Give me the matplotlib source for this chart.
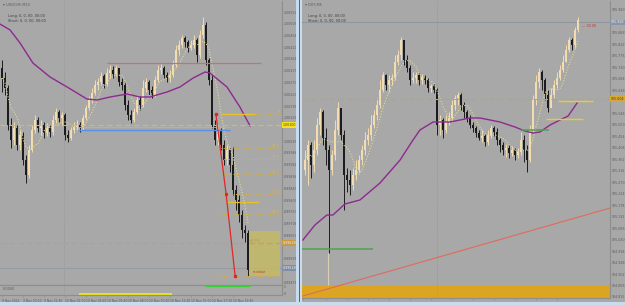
import matplotlib
matplotlib.use('Agg')
import matplotlib.pyplot as plt
from matplotlib.patches import Rectangle
import numpy as np
import pandas as pd

W, H = 625, 305
BG = '#a8a8a8'
TXT = '#5c5c5c'
BULL = '#f2dcb0'
BEAR = '#1c1c1c'

# ---------------- left chart (USDCHF) ----------------
L_title = '\u25be USDCHF,M15'
L_open0 = 1.00328
L_close = [1.00288, 1.00248, 1.00100, 1.00040, 1.00088, 1.00020, 1.00060, 0.99960, 0.99900, 1.00000,
           1.00080, 1.00120, 1.00088, 1.00100, 1.00068, 1.00088, 1.00072, 1.00120, 1.00152, 1.00128,
           1.00140, 1.00060, 1.00048, 1.00080, 1.00092, 1.00100, 1.00088, 1.00128, 1.00168, 1.00200,
           1.00228, 1.00260, 1.00272, 1.00296, 1.00264, 1.00308, 1.00320, 1.00304, 1.00328, 1.00272,
           1.00260, 1.00180, 1.00140, 1.00120, 1.00152, 1.00200, 1.00180, 1.00248, 1.00272, 1.00240,
           1.00220, 1.00280, 1.00320, 1.00328, 1.00300, 1.00288, 1.00300, 1.00340, 1.00400, 1.00420,
           1.00448, 1.00432, 1.00408, 1.00420, 1.00440, 1.00380, 1.00460, 1.00500, 1.00360, 1.00280,
           1.00100, 1.00040, 1.00080, 1.00020, 0.99960, 1.00000, 0.99940, 0.99840, 0.99800, 0.99740,
           0.99680, 0.99668, 0.99520]
L_high = [1.00360, 1.00312, 1.00260, 1.00128, 1.00112, 1.00100, 1.00080, 1.00072, 0.99980, 1.00020,
          1.00100, 1.00140, 1.00132, 1.00120, 1.00112, 1.00108, 1.00100, 1.00140, 1.00168, 1.00160,
          1.00152, 1.00148, 1.00080, 1.00092, 1.00112, 1.00120, 1.00112, 1.00140, 1.00180, 1.00216,
          1.00248, 1.00280, 1.00288, 1.00312, 1.00304, 1.00328, 1.00340, 1.00336, 1.00340, 1.00328,
          1.00288, 1.00272, 1.00200, 1.00160, 1.00168, 1.00220, 1.00216, 1.00280, 1.00288, 1.00280,
          1.00256, 1.00296, 1.00340, 1.00344, 1.00336, 1.00312, 1.00320, 1.00360, 1.00420, 1.00440,
          1.00460, 1.00456, 1.00440, 1.00440, 1.00460, 1.00448, 1.00480, 1.00532, 1.00512, 1.00368,
          1.00300, 1.00120, 1.00100, 1.00088, 1.00040, 1.00020, 1.00008, 1.00012, 0.99860, 0.99820,
          0.99760, 0.99700, 0.99680]
L_low = [1.00232, 1.00220, 1.00080, 1.00008, 1.00020, 1.00000, 1.00000, 0.99940, 0.99868, 0.99888,
         0.99992, 1.00068, 1.00072, 1.00060, 1.00048, 1.00056, 1.00052, 1.00060, 1.00108, 1.00112,
         1.00100, 1.00040, 1.00032, 1.00040, 1.00068, 1.00080, 1.00072, 1.00080, 1.00120, 1.00160,
         1.00188, 1.00220, 1.00240, 1.00260, 1.00248, 1.00256, 1.00288, 1.00288, 1.00296, 1.00256,
         1.00240, 1.00160, 1.00120, 1.00108, 1.00112, 1.00144, 1.00160, 1.00172, 1.00232, 1.00220,
         1.00208, 1.00212, 1.00272, 1.00304, 1.00288, 1.00272, 1.00272, 1.00292, 1.00332, 1.00380,
         1.00408, 1.00412, 1.00392, 1.00400, 1.00408, 1.00352, 1.00368, 1.00448, 1.00340, 1.00260,
         1.00088, 1.00020, 1.00020, 1.00000, 0.99940, 0.99940, 0.99912, 0.99820, 0.99760, 0.99712,
         0.99648, 0.99632, 0.99496]
L_ma_idx = [-0.7, 2.7, 6, 10.3, 16, 21.7, 28.3, 31.7, 36, 41.7, 46, 49.3, 55, 59.3, 63.7, 67.7, 69.3, 75, 79.3, 82.7]
L_ma_val = [1.00504, 1.00480, 1.00428, 1.00348, 1.00292, 1.00252, 1.00204, 1.00200, 1.00212, 1.00224,
            1.00212, 1.00212, 1.00232, 1.00252, 1.00288, 1.00312, 1.00308, 1.00252, 1.00172, 1.00096]
L_resist = 1.00348          # salmon line
L_support = [1.00080, 1.00092]  # blue lines
L_yellow_dash = 1.00100
L_orange_dash = 0.99628
L_bid = 0.99528
L_fib_top = 1.00144
L_fib_levels = [1.00008, 0.99964, 0.99904, 0.99824, 0.99744, 0.99496]
L_fib_labels = ['23.6', '30.0', '38.2', '50.0', '61.8', '100']
L_gold2 = 0.99792
L_box = [0.99496, 0.99676]
L_leg_idx = [71.3, 74.7, 77.7]
L_leg_val = [1.00144, 0.99824, 0.99496]
L_yticks = [1.00552, 1.00505, 1.00458, 1.00411, 1.00364, 1.00317, 1.00270, 1.00223, 1.00176, 1.00129,
            1.00035, 0.99988, 0.99941, 0.99894, 0.99847, 0.99800, 0.99753, 0.99706, 0.99659,
            0.99565, 0.99471]
L_xtick_idx = [0, 7, 14, 21, 28, 35, 42, 49, 56, 63, 70, 77]
L_xtick_lab = ['9 Nov 2022', '9 Nov 20:20', '9 Nov 22:40', '10 Nov 01:00', '10 Nov 03:20', '10 Nov 05:40',
               '10 Nov 08:00', '10 Nov 10:20', '10 Nov 12:40', '10 Nov 15:00', '10 Nov 17:20', '10 Nov 19:40']

# ---------------- right chart (DXY) ----------------
R_title = '\u25be DXY,M5'
R_open0 = 105.320
R_close = [105.360, 105.420, 105.340, 105.400, 105.500, 105.552, 105.448, 105.400, 105.320, 105.380,
           105.480, 105.568, 105.460, 105.300, 105.280, 105.260, 105.300, 105.320, 105.360, 105.400,
           105.440, 105.460, 105.500, 105.540, 105.580, 105.640, 105.700, 105.660, 105.680, 105.688,
           105.752, 105.780, 105.840, 105.760, 105.728, 105.680, 105.688, 105.700, 105.680, 105.692,
           105.680, 105.648, 105.656, 105.640, 105.500, 105.520, 105.480, 105.512, 105.528, 105.580,
           105.608, 105.620, 105.580, 105.552, 105.528, 105.500, 105.488, 105.468, 105.448, 105.456,
           105.432, 105.460, 105.488, 105.472, 105.440, 105.420, 105.400, 105.408, 105.388, 105.400,
           105.380, 105.392, 105.440, 105.400, 105.360, 105.480, 105.600, 105.672, 105.712, 105.680,
           105.620, 105.568, 105.620, 105.660, 105.688, 105.720, 105.752, 105.800, 105.840, 105.820,
           105.880, 105.920]
R_high = [105.400, 105.440, 105.432, 105.440, 105.528, 105.568, 105.560, 105.488, 105.420, 105.400,
          105.520, 105.592, 105.560, 105.480, 105.328, 105.320, 105.328, 105.360, 105.380, 105.420,
          105.472, 105.488, 105.540, 105.560, 105.608, 105.680, 105.712, 105.704, 105.700, 105.704,
          105.780, 105.800, 105.852, 105.832, 105.780, 105.740, 105.712, 105.712, 105.708, 105.704,
          105.700, 105.688, 105.664, 105.664, 105.648, 105.540, 105.528, 105.540, 105.552, 105.600,
          105.620, 105.632, 105.628, 105.592, 105.560, 105.540, 105.512, 105.496, 105.480, 105.480,
          105.464, 105.480, 105.500, 105.496, 105.488, 105.448, 105.432, 105.424, 105.420, 105.416,
          105.408, 105.408, 105.472, 105.460, 105.420, 105.500, 105.620, 105.700, 105.728, 105.720,
          105.688, 105.640, 105.648, 105.680, 105.712, 105.740, 105.780, 105.820, 105.852, 105.848,
          105.892, 105.932]
R_low = [105.300, 105.260, 105.288, 105.312, 105.380, 105.460, 105.420, 105.340, 104.988, 105.300,
         105.360, 105.460, 105.440, 105.160, 105.232, 105.220, 105.240, 105.280, 105.312, 105.340,
         105.380, 105.420, 105.440, 105.488, 105.520, 105.568, 105.632, 105.640, 105.632, 105.660,
         105.680, 105.740, 105.760, 105.740, 105.712, 105.660, 105.668, 105.668, 105.660, 105.664,
         105.664, 105.632, 105.632, 105.628, 105.460, 105.460, 105.448, 105.468, 105.500, 105.512,
         105.560, 105.580, 105.560, 105.528, 105.512, 105.488, 105.472, 105.452, 105.440, 105.432,
         105.416, 105.420, 105.448, 105.456, 105.420, 105.392, 105.380, 105.372, 105.368, 105.376,
         105.360, 105.368, 105.380, 105.352, 105.312, 105.352, 105.472, 105.580, 105.648, 105.640,
         105.600, 105.552, 105.580, 105.608, 105.648, 105.680, 105.712, 105.752, 105.792, 105.800,
         105.808, 105.872]
R_ma_idx = [-0.7, 3.3, 7.3, 9.3, 13.3, 18.3, 25, 31.7, 36, 38.3, 42.7, 48.3, 55, 58.3, 61.7, 65, 70,
            73.3, 76, 78.3, 81.7, 85, 87.7, 90.7]
R_ma_val = [105.040, 105.100, 105.140, 105.140, 105.184, 105.200, 105.268, 105.360, 105.440, 105.480,
            105.512, 105.512, 105.528, 105.528, 105.520, 105.512, 105.492, 105.476, 105.468, 105.472,
            105.500, 105.520, 105.536, 105.588]
R_bid = 105.910
R_gold_dash = 105.604
R_yellow_lvls = [105.596, 105.524]
R_green_lvls = [105.480, 105.004]
R_trend_idx = [-0.7, 101.7]
R_trend_val = [104.816, 105.168]
R_zone = [104.700, 104.860]
R_yticks = [105.960, 105.868, 105.822, 105.776, 105.730, 105.684, 105.638, 105.546,
            105.500, 105.454, 105.408, 105.362, 105.316, 105.270, 105.224, 105.178, 105.132, 105.086,
            105.040, 104.994, 104.948, 104.902, 104.856, 104.815]
R_xtick_idx = [-0.7, 7, 14, 21, 28, 35, 42, 49, 56, 63, 70, 77, 84]
R_xtick_lab = ['9 Nov 2022', '9 Nov 16:00', '9 Nov 16:35', '9 Nov 17:10', '9 Nov 17:45', '9 Nov 18:20',
               '9 Nov 18:55', '9 Nov 19:30', '9 Nov 20:05', '9 Nov 20:40', '9 Nov 21:15', '9 Nov 21:50',
               '9 Nov 22:25']

FS_Y = 2.3
FS_X = 2.2


def rect(x0, y0, x1, y1):
    return [x0 / W, 1 - y1 / H, (x1 - x0) / W, (y1 - y0) / H]


def candles(ax, open0, close, high, low):
    c = np.array(close)
    o = np.array([open0] + list(close[:-1]))
    idx = np.arange(len(c))
    cols = np.where(c >= o, BULL, BEAR)
    ax.vlines(idx, low, high, colors=cols, linewidth=0.7, zorder=3)
    span = np.maximum(np.abs(c - o), (ax.get_ylim()[1] - ax.get_ylim()[0]) * 0.003)
    ax.bar(idx, span, bottom=np.minimum(o, c), width=0.62, color=cols, linewidth=0, zorder=3)


def style(ax, yticks, ylim, xlim):
    ax.set_facecolor(BG)
    ax.set_xlim(*xlim)
    ax.set_ylim(*ylim)
    ax.yaxis.tick_right()
    ax.set_yticks(yticks)
    ax.set_yticklabels(['%.5f' % v if v < 10 else '%.3f' % v for v in yticks])
    ax.tick_params(axis='y', labelsize=FS_Y, colors='#8c8c8c', labelcolor=TXT, length=0.8, width=0.5, pad=0.4)
    for s in ('top', 'left'):
        ax.spines[s].set_visible(False)
    for s in ('right', 'bottom'):
        ax.spines[s].set_color('#8e8e8e')
        ax.spines[s].set_linewidth(0.8)


def price_box(ax, y, text, fc, tc):
    ax.text(1.002, y, text, transform=ax.get_yaxis_transform(), fontsize=FS_Y, color=tc, va='center',
            ha='left', zorder=10, clip_on=False,
            bbox=dict(boxstyle='square,pad=0.2', fc=fc, ec='none'))


fig = plt.figure(figsize=(W / 100, H / 100), dpi=100, facecolor=BG)

# ======== LEFT ========
axL = fig.add_axes(rect(0, 1, 282, 285))
style(axL, L_yticks, (1.00596 - 0.00004 * 284, 1.00596), (-0.67, 93.33))
axL.set_xticks([])
candles(axL, L_open0, L_close, L_high, L_low)
fast = pd.Series(L_close).rolling(6, min_periods=1).mean()
axL.plot(np.arange(len(L_close)), fast, color='#e4da8c', lw=0.8, ls=(0, (1, 1.5)), zorder=4)
axL.plot(L_ma_idx, L_ma_val, color='#8e2a8e', lw=1.0, zorder=4)
axL.axvline(20.67, color='#8a8a8a', lw=0.5, ls=(0, (1, 2)), zorder=1)
axL.hlines(L_resist, 35, 86.3, color='#c47272', lw=0.9, zorder=5)
axL.hlines(L_support[0], 25.3, 76, color='#5b8ee6', lw=1.0, zorder=5)
axL.hlines(L_support[1], 25.3, 76, color='#9ab6e0', lw=0.6, zorder=5)
axL.axhline(L_yellow_dash, color='#d6bf45', lw=0.8, ls=(0, (5, 3)), zorder=5)
axL.axhline(L_orange_dash, color='#c9a052', lw=0.8, ls=(0, (5, 3)), zorder=5)
axL.axhline(L_bid, color='#959aa0', lw=0.8, zorder=2)
axL.add_patch(Rectangle((82, L_box[0]), 10.7, L_box[1] - L_box[0], fc='#c2b86a', ec='none', alpha=0.9, zorder=2))
axL.hlines(L_fib_top, 73, 84.3, color='#e6c228', lw=1.0, zorder=5)
axL.hlines(L_fib_top, 84.3, 92.7, color='#d4b040', lw=0.7, ls=(0, (1, 1.5)), zorder=5)
axL.text(92.6, L_fib_top, '0', fontsize=2.5, color='#d8b84a', ha='right', va='bottom', zorder=6)
for lv, lab in zip(L_fib_levels, L_fib_labels):
    axL.hlines(lv, 71.3, 92.7, color='#d4b040', lw=0.7, ls=(0, (1, 1.5)), zorder=5)
    axL.text(92.6, lv, lab, fontsize=2.5, color='#d8b84a', ha='right', va='bottom', zorder=6)
axL.hlines(L_gold2, 74.7, 85.7, color='#e6c228', lw=0.9, zorder=5)
axL.plot(L_leg_idx, L_leg_val, color='#e02828', lw=0.9, zorder=7)
axL.plot([L_leg_idx[0], L_leg_idx[-1]], [L_leg_val[0], L_leg_val[-1]], ls='none', marker='s',
         ms=1.6, color='#e02828', zorder=7)
axL.plot(L_leg_idx[1], L_leg_val[1], ls='none', marker='s', ms=1.2, color='#c03030', zorder=7)
axL.text(83.5, 0.99505, 'sr.value', fontsize=2.4, color='#c83a20', va='bottom', zorder=8)
axL.text(82.3, 0.99628, '+0.7%', fontsize=2.4, color='#c8903a', va='bottom', zorder=8)
axL.text(0.01, 0.992, L_title, transform=axL.transAxes, fontsize=2.6, color=TXT, va='top')
axL.text(0.028, 0.955, 'Long: 0, 0, 00, 00:00', transform=axL.transAxes, fontsize=2.5, color='#3c3c3c', va='top')
axL.text(0.028, 0.937, 'Short: 0, 0, 00, 00:00', transform=axL.transAxes, fontsize=2.5, color='#3c3c3c', va='top')
price_box(axL, L_yellow_dash, '%.5f' % L_yellow_dash, '#f6e21a', '#404040')
price_box(axL, L_orange_dash, '%.5f' % L_orange_dash, '#c99a42', '#f0f0f0')
price_box(axL, L_bid, '%.5f' % L_bid, '#7f8ea3', '#f0f0f0')

# left sub window
axS = fig.add_axes(rect(0, 285, 282, 295))
style(axS, [1, 0], (-0.2, 1.2), (-0.67, 93.33))
axS.set_yticklabels(['1', '0'])
axS.spines['top'].set_visible(True)
axS.spines['top'].set_color('#8e8e8e')
axS.axvline(20.67, color='#8a8a8a', lw=0.5, ls=(0, (1, 2)))
axS.hlines(1.0, 67.7, 82.7, color='#33d633', lw=0.9)
axS.hlines(0.0, 25.7, 56.7, color='#f4f000', lw=1.2)
axS.text(0.01, 0.85, '0.0000', transform=axS.transAxes, fontsize=2.5, color=TXT, va='top')
axS.set_xticks(L_xtick_idx)
axS.set_xticklabels(L_xtick_lab, ha='left')
axS.tick_params(axis='x', labelsize=FS_X, labelcolor=TXT, colors='#8c8c8c', length=1.5, width=0.5, pad=1.2)

# ======== RIGHT ========
axR = fig.add_axes(rect(302, 1, 610, 298))
style(axR, R_yticks, (105.996 - 0.004 * 297, 105.996), (-1.0, 101.67))
axR.set_xticks(R_xtick_idx)
axR.set_xticklabels(R_xtick_lab, ha='left')
axR.tick_params(axis='x', labelsize=FS_X, labelcolor=TXT, colors='#8c8c8c', length=1.5, width=0.5, pad=1.2)
axR.axhspan(R_zone[0], R_zone[1], color='#dba521', lw=0, zorder=1)
axR.axvline(44, color='#8a8a8a', lw=0.5, ls=(0, (1, 2)), zorder=1)
axR.vlines(7.67, R_zone[1], 104.988, color='#d9cfb4', lw=0.8, zorder=2)
candles(axR, R_open0, R_close, R_high, R_low)
fastR = pd.Series(R_close).rolling(6, min_periods=1).mean()
axR.plot(np.arange(len(R_close)), fastR, color='#e4da8c', lw=0.8, ls=(0, (1, 1.5)), zorder=4)
axR.plot(R_ma_idx, R_ma_val, color='#8e2a8e', lw=1.0, zorder=4)
axR.axhline(R_bid, color='#8f969e', lw=0.8, zorder=2)
axR.axhline(R_gold_dash, color='#caa24a', lw=0.8, ls=(0, (5, 3)), zorder=5)
axR.hlines(R_yellow_lvls[0], 84.3, 96, color='#eccd28', lw=1.0, zorder=5)
axR.hlines(R_yellow_lvls[1], 80.3, 92.7, color='#eccd28', lw=1.0, zorder=5)
axR.hlines(R_green_lvls[0], 72, 81.3, color='#4fa24f', lw=1.1, zorder=5)
axR.hlines(R_green_lvls[1], -1, 22.7, color='#4fa24f', lw=1.1, zorder=5)
axR.plot(R_trend_idx, R_trend_val, color='#e26a5a', lw=0.8, zorder=6)
axR.text(92.3, 105.896, '\u2014 00.00', fontsize=2.4, color='#d03030', va='center', zorder=8)
axR.text(0.01, 0.992, R_title, transform=axR.transAxes, fontsize=2.6, color=TXT, va='top')
axR.text(0.02, 0.955, 'Long: 0, 0, 00, 00:00', transform=axR.transAxes, fontsize=2.5, color='#3c3c3c', va='top')
axR.text(0.02, 0.938, 'Short: 0, 0, 00, 00:00', transform=axR.transAxes, fontsize=2.5, color='#3c3c3c', va='top')
price_box(axR, R_bid, '%.3f' % R_bid, '#8796a8', '#f0f0f0')
price_box(axR, R_gold_dash, '%.3f' % R_gold_dash, '#d8a830', '#404040')

# panel frames (window borders)
fig.patches.append(Rectangle((296 / W, 0), 6 / W, 1, transform=fig.transFigure, fc='#c9dcef', ec='none', zorder=0))
fig.patches.append(Rectangle((299 / W, 0), 1.2 / W, 1, transform=fig.transFigure, fc='#3b6ea5', ec='none', zorder=0))
fig.patches.append(Rectangle((0, 0), 1, 3 / H, transform=fig.transFigure, fc='#c9dcef', ec='none', zorder=0))

fig.savefig('out.png', dpi=100, facecolor=BG)
